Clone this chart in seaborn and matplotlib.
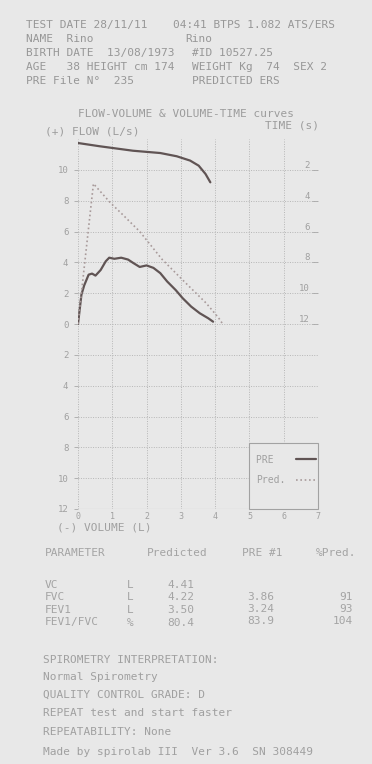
import matplotlib
matplotlib.use("Agg")
import matplotlib.pyplot as plt
from matplotlib.patches import Rectangle
import seaborn as sns
import pandas as pd

# ---------------- data ----------------
pre_volume = [0.0, 0.10, 0.18, 0.31, 0.41, 0.51, 0.66, 0.81, 0.91, 1.06, 1.26, 1.46,
              1.61, 1.80, 2.00, 2.20, 2.40, 2.60, 2.85, 3.05, 3.30, 3.55, 3.80, 3.94]
pre_flow = [0.0, 1.9, 2.5, 3.2, 3.27, 3.14, 3.5, 4.07, 4.3, 4.23, 4.3, 4.18,
            3.96, 3.7, 3.8, 3.64, 3.3, 2.76, 2.2, 1.68, 1.13, 0.7, 0.37, 0.15]

pred_volume = [0.0, 0.45, 0.95, 1.30, 1.80, 2.45, 3.14, 3.74, 4.10, 4.22]
pred_flow = [0.0, 9.1, 7.85, 7.1, 6.0, 4.2, 2.66, 1.35, 0.4, 0.0]

vt_volume = [0.0, 0.63, 1.60, 2.40, 2.88, 3.27, 3.52, 3.72, 3.86]
vt_time = [0.26, 0.47, 0.76, 0.91, 1.12, 1.40, 1.73, 2.27, 2.81]

volume_ticks = [0, 1, 2, 3, 4, 5, 6, 7]
flow_ticks = [-12, -10, -8, -6, -4, -2, 0, 2, 4, 6, 8, 10]
time_ticks = [2, 4, 6, 8, 10, 12]

header_left = ["TEST DATE 28/11/11", "NAME  Rino", "BIRTH DATE  13/08/1973",
               "AGE   38 HEIGHT cm 174", "PRE File N\u00b0  235"]
header_right = ["04:41 BTPS 1.082 ATS/ERS", "Rino", "#ID 10527.25",
                "WEIGHT Kg  74  SEX 2", "PREDICTED ERS"]

table_params = ["VC", "FVC", "FEV1", "FEV1/FVC"]
table_units = ["L", "L", "L", "%"]
table_predicted = ["4.41", "4.22", "3.50", "80.4"]
table_pre = ["", "3.86", "3.24", "83.9"]
table_pct = ["", "91", "93", "104"]

footer_lines = ["SPIROMETRY INTERPRETATION:", "Normal Spirometry",
                "QUALITY CONTROL GRADE: D", "REPEAT test and start faster",
                "REPEATABILITY: None", "Made by spirolab III  Ver 3.6  SN 308449"]

# ---------------- style ----------------
BG = "#e8e8e8"
HEAD = "#979797"
TXT = "#a4a4a4"
sns.set_theme(style="white")
plt.rcParams["font.family"] = ["DejaVu Sans Mono", "DejaVu Sans"]

W, H = 372, 764
fig = plt.figure(figsize=(W / 100, H / 100), dpi=100, facecolor=BG)


def ftext(x, y, s, size=8, color=TXT, ha="left"):
    fig.text(x / W, 1 - y / H, s, fontsize=size, color=color, ha=ha, va="center")


# header
for i, (l, r) in enumerate(zip(header_left, header_right)):
    y = 25 + i * 14
    ftext(26, y, l, color=HEAD)
    xr = 173 if i == 0 else (185 if i == 1 else 192)
    ftext(xr, y, r, color=HEAD)

ftext(78, 114, "FLOW-VOLUME & VOLUME-TIME curves", color="#9c9c9c")
ftext(45, 132, "(+) FLOW (L/s)", color="#9c9c9c")
ftext(265, 125, "TIME (s)", color="#9c9c9c")
ftext(57, 528, "(-) VOLUME (L)", color="#a0a0a0")

# ---------------- axes ----------------
ax = fig.add_axes([78 / W, 1 - 509 / H, 240 / W, 370 / H])
ax.set_facecolor(BG)

df_pre = pd.DataFrame({"volume": pre_volume, "flow": pre_flow})
df_pred = pd.DataFrame({"volume": pred_volume, "flow": pred_flow})
df_vt = pd.DataFrame({"volume": vt_volume, "time": vt_time})

sns.lineplot(data=df_pre, x="volume", y="flow", ax=ax, sort=False, estimator=None,
             color="#605454", lw=1.6, label="PRE  ", zorder=3)
sns.lineplot(data=df_pred, x="volume", y="flow", ax=ax, sort=False, estimator=None,
             color="#a89a9a", lw=1.2, linestyle=(0, (1, 1.6)), label="Pred.", zorder=3)

ax.set_xlim(0, 7)
ax.set_ylim(-12, 12)
ax.set_xticks(volume_ticks)
ax.set_xticklabels([str(v) for v in volume_ticks])
ax.set_yticks(flow_ticks)
ax.set_yticklabels([str(abs(v)) for v in flow_ticks])
ax.set_xlabel("")
ax.set_ylabel("")
ax.tick_params(axis="both", colors="#a8a8a8", labelcolor="#a0a0a0", labelsize=6.5,
               length=3, width=0.6, direction="out")
ax.tick_params(axis="x", pad=0, length=2, labelsize=6)
ax.tick_params(axis="y", pad=4)
ax.grid(True, color="#b6b6b6", linestyle=(0, (1, 1.5)), lw=0.7)
ax.axhline(-12, color="#b3b3b3", lw=0.8)
for s in ax.spines.values():
    s.set_visible(False)

# legend box in the lower-right corner (vol 5..7)
ax.add_patch(Rectangle((5, -12), 2, 4.28, facecolor=BG, edgecolor="#a2a2a2",
                       lw=0.8, zorder=4, clip_on=False))
leg = ax.legend(loc="upper left", bbox_to_anchor=((252 - 78) / 240, (509 - 451) / 370),
                markerfirst=False, frameon=False, borderaxespad=0,
                handlelength=2.05, handletextpad=1.1, borderpad=0.4, labelspacing=1.06,
                prop={"family": "DejaVu Sans Mono", "size": 7})
leg.set_zorder(5)
for t in leg.get_texts():
    t.set_color("#a0a0a0")

# time axis (volume-time curve)
ax2 = ax.twinx()
sns.lineplot(data=df_vt, x="volume", y="time", ax=ax2, sort=False, estimator=None,
             color="#605454", lw=1.6, legend=False)
ax2.set_ylim(24, 0)
ax2.set_xlim(0, 7)
ax2.set_yticks(time_ticks)
ax2.set_yticklabels([str(t) for t in time_ticks])
ax2.set_ylabel("")
ax2.tick_params(axis="y", direction="in", length=4, width=0.6, colors="#a8a8a8",
                labelcolor="#a0a0a0", labelsize=6.5, pad=-6)
for lab in ax2.get_yticklabels():
    lab.set_horizontalalignment("right")
    lab.set_verticalalignment("bottom")
for s in ax2.spines.values():
    s.set_visible(False)
ax2.grid(False)

# ---------------- table ----------------
ftext(45, 553, "PARAMETER")
ftext(147, 553, "Predicted")
ftext(242, 553, "PRE #1")
ftext(356, 553, "%Pred.", ha="right")
for i in range(len(table_params)):
    y = 585 + i * 12.5
    ftext(45, y, table_params[i])
    ftext(127, y, table_units[i])
    ftext(167, y, table_predicted[i])
    ftext(247, y - 1, table_pre[i])
    ftext(353, y - 1, table_pct[i], ha="right")

for i, line in enumerate(footer_lines):
    y = [660, 677, 695, 713, 732, 752][i]
    ftext(43, y, line, color="#a0a0a0")

fig.savefig("out.png", dpi=100, facecolor=BG)
